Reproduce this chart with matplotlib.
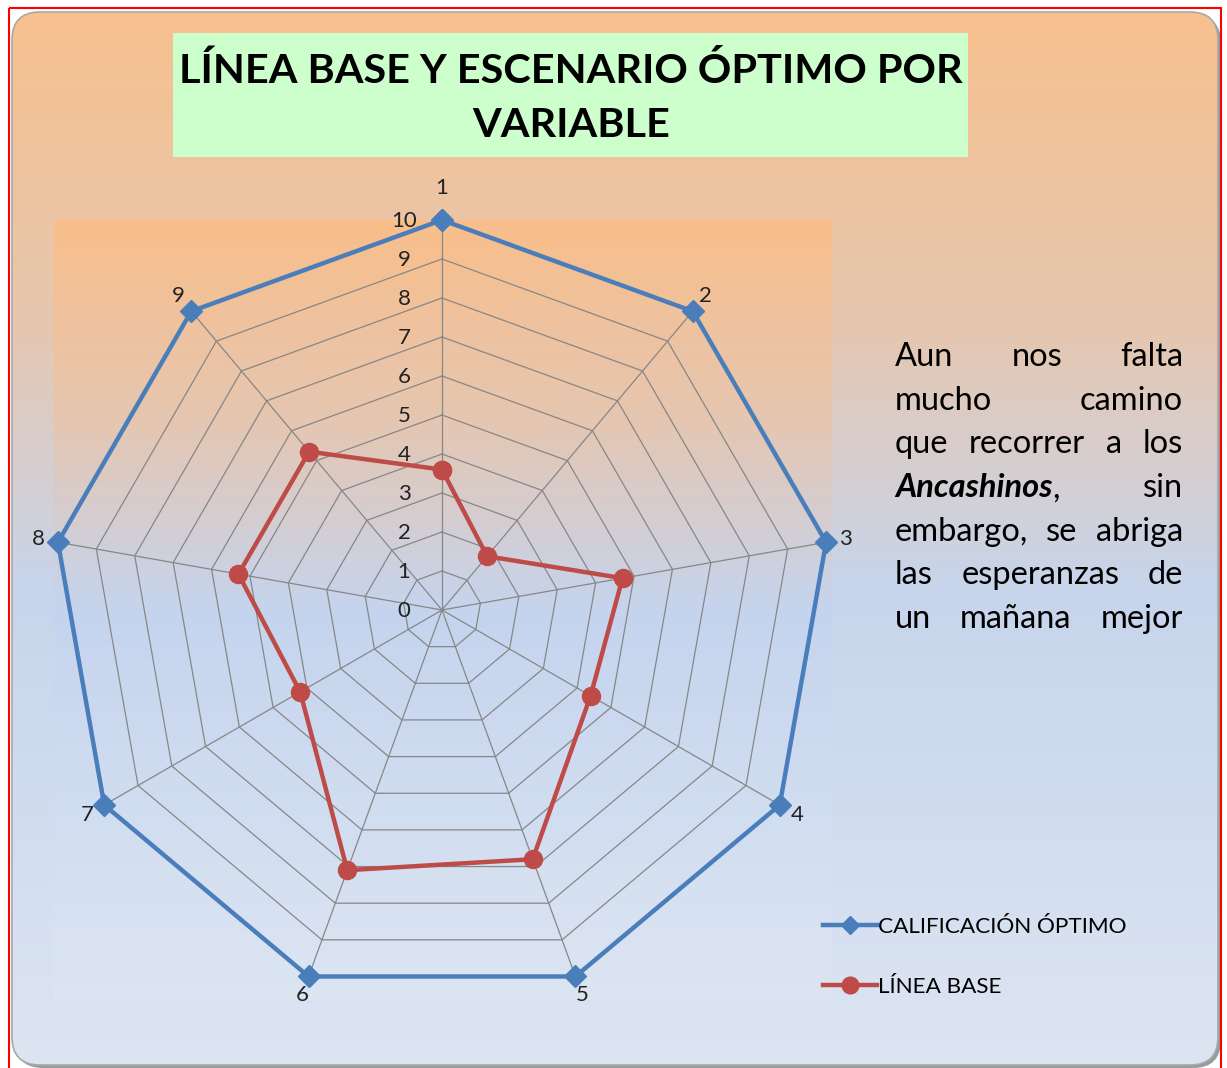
import numpy as np
import matplotlib
matplotlib.use('Agg')
import matplotlib.pyplot as plt
import matplotlib.transforms as mtransforms
from matplotlib.patches import FancyBboxPatch, Rectangle
from matplotlib.colors import LinearSegmentedColormap
from matplotlib.lines import Line2D

plt.rcParams['font.family'] = ['Lato', 'DejaVu Sans']

# datos
variables = ['1', '2', '3', '4', '5', '6', '7', '8', '9']
calificacion_optimo = [10, 10, 10, 10, 10, 10, 10, 10, 10]
linea_base = [3.6, 1.8, 4.7, 4.4, 6.8, 7.1, 4.2, 5.3, 5.3]
niveles = [0, 1, 2, 3, 4, 5, 6, 7, 8, 9, 10]
series = ['CALIFICACIÓN ÓPTIMO', 'LÍNEA BASE']
titulo = ['LÍNEA BASE Y ESCENARIO ÓPTIMO POR', 'VARIABLE']
parrafo = [
    [['Aun'], ['nos'], ['falta']],
    [['mucho'], ['camino']],
    [['que'], ['recorrer'], ['a'], ['los']],
    [['*Ancashinos', ','], ['sin']],
    [['embargo,'], ['se'], ['abriga']],
    [['las'], ['esperanzas'], ['de']],
    [['un'], ['mañana'], ['mejor']],
]

AZUL = '#4A7EBB'
ROJO = '#BE4B48'
GRIS = '#878787'

W, H = 1227, 1068
fig = plt.figure(figsize=(W / 100, H / 100), dpi=100)
fig.patch.set_facecolor('white')

# fondo en coordenadas de pixel
bg = fig.add_axes([0, 0, 1, 1])
bg.set_xlim(0, W)
bg.set_ylim(H, 0)
bg.axis('off')

bg.add_patch(Rectangle((9, 8), 1212, 1080, fill=False, edgecolor='red', lw=1.5, zorder=5))

sombra = FancyBboxPatch((15, 15), 1206, 1053, boxstyle='round,pad=0,rounding_size=28',
                        facecolor='#9a9a9a', edgecolor='none', zorder=0)
bg.add_patch(sombra)
marco = FancyBboxPatch((12, 12), 1206, 1053, boxstyle='round,pad=0,rounding_size=28',
                       facecolor='none', edgecolor='#a8a8a8', lw=1.2, zorder=2)
bg.add_patch(marco)

grad = np.linspace(0, 1, 512).reshape(-1, 1)
cmap_area = LinearSegmentedColormap.from_list(
    'area', [(0, '#F7C18E'), (0.3, '#E6C7B0'), (0.55, '#C7D5EC'), (1, '#DCE5F2')])
img = bg.imshow(grad, cmap=cmap_area, extent=(12, 1218, 1065, 12), aspect='auto', zorder=1)
img.set_clip_path(marco)

cmap_plot = LinearSegmentedColormap.from_list(
    'plot', [(0, '#F9BE8A'), (0.25, '#E6C6B0'), (0.5, '#C5D4EE'), (1, '#DCE5F2')])
bg.imshow(grad, cmap=cmap_plot, extent=(54, 832, 1000, 220), aspect='auto', zorder=1.5)

bg.set_xlim(0, W)
bg.set_ylim(H, 0)

# titulo
bg.add_patch(Rectangle((173, 33), 795, 124, facecolor='#CCFFCC', edgecolor='none', zorder=3))
r = fig.canvas.get_renderer()
t1 = bg.text(571, 83, titulo[0], ha='center', va='baseline', fontsize=30,
             fontweight='bold', color='black', zorder=4)
ancho = t1.get_window_extent(r).width
fs_tit = 30 * 782 / ancho
t1.set_fontsize(fs_tit)
bg.text(571, 137, titulo[1], ha='center', va='baseline', fontsize=fs_tit,
        fontweight='bold', color='black', zorder=4)

# parrafo justificado
x0, x1 = 895, 1183
fs_par = 23.5
for i, linea in enumerate(parrafo):
    y = 366 + 43.7 * i
    palabras = []
    for palabra in linea:
        partes = []
        for seg in palabra:
            if seg.startswith('*'):
                t = bg.text(0, y, seg[1:], fontsize=fs_par, fontweight='bold', style='italic',
                            va='baseline', zorder=4)
            else:
                t = bg.text(0, y, seg, fontsize=fs_par, va='baseline', zorder=4)
            partes.append((t, t.get_window_extent(r).width))
        palabras.append(partes)
    anchos = [sum(w for _, w in p) for p in palabras]
    hueco = (x1 - x0 - sum(anchos)) / (len(palabras) - 1)
    x = x0
    for p, a in zip(palabras, anchos):
        xx = x
        for t, w in p:
            t.set_x(xx)
            xx += w
        x += a + hueco

# radar
ax = fig.add_axes([(442 - 390) / W, (H - 1000) / H, 780 / W, 780 / H], projection='polar')
ax.set_facecolor('none')
ax.set_theta_zero_location('N')
ax.set_theta_direction(-1)
ax.set_ylim(0, 10)
ax.grid(False)
ax.spines['polar'].set_visible(False)
ax.set_yticks([])
ax.set_xticks([])

theta = np.linspace(0, 2 * np.pi, len(variables), endpoint=False)
theta_c = np.append(theta, theta[0])

for n in niveles[1:]:
    ax.plot(theta_c, [n] * len(theta_c), color=GRIS, lw=0.9, zorder=1)
for t in theta:
    ax.plot([t, t], [0, 10], color=GRIS, lw=0.9, zorder=1)

desp = mtransforms.offset_copy(ax.transData, fig=fig, x=-38, y=-1, units='dots')
for n in niveles:
    ax.text(0, n, str(n), transform=desp, ha='center', va='center', fontsize=16, color='#222222')

# etiquetas de las variables, desplazadas hacia afuera del vertice
for t, lab in zip(theta, variables):
    d = 32 if t == 0 else 20
    tr = mtransforms.offset_copy(ax.transData, fig=fig, x=d * np.sin(t), y=d * np.cos(t),
                                 units='dots')
    ax.text(t, 10, lab, transform=tr, ha='center', va='center', fontsize=16, color='#222222')

ax.plot(theta_c, calificacion_optimo + calificacion_optimo[:1], color=AZUL, lw=3.2,
        marker='D', markersize=11, zorder=3, clip_on=False)
ax.plot(theta_c, linea_base + linea_base[:1], color=ROJO, lw=3.2,
        marker='o', markersize=13, zorder=4, clip_on=False)

handles = [Line2D([], [], color=AZUL, lw=3.2, marker='D', markersize=9),
           Line2D([], [], color=ROJO, lw=3.2, marker='o', markersize=12)]
fig.legend(handles, series, loc='center left', bbox_to_anchor=(812 / W, 1 - 957 / H),
           frameon=False, fontsize=16.2, handlelength=2.4, handletextpad=0.05,
           labelspacing=1.75, borderpad=0)

fig.savefig('out.png', dpi=100)
